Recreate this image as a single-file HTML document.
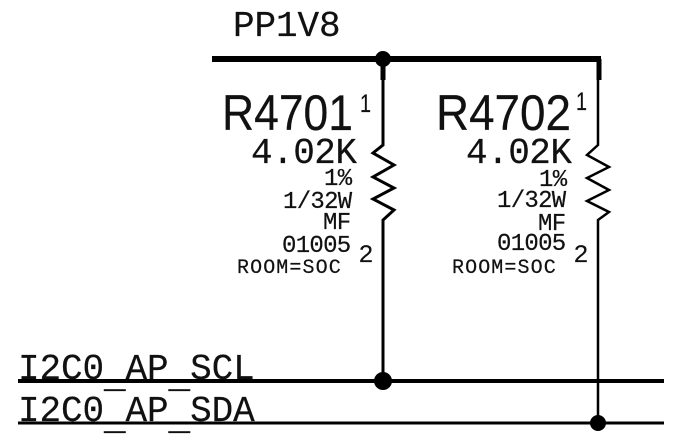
<!DOCTYPE html>
<html><head><meta charset="utf-8"><style>
html,body{margin:0;padding:0;background:#fff;width:684px;height:445px;overflow:hidden}
svg{display:block}
.m{font-family:"Liberation Mono",monospace;fill:#111;stroke:#111;stroke-width:.2}
.s{font-family:"Liberation Sans",sans-serif;fill:#111;stroke:#111;stroke-width:.2}
.b{font-size:36px;letter-spacing:-.1px}
.k{font-size:36px;letter-spacing:-.5px}
.t{font-size:24px;letter-spacing:-.7px}
.r{font-size:20px;letter-spacing:1.1px}
</style></head><body>
<svg width="684" height="445" viewBox="0 0 684 445" xmlns="http://www.w3.org/2000/svg">
<g stroke="#000" fill="none">
<path d="M212 59H601" stroke-width="6"/>
<path d="M383 59V80M599 59V80" stroke-width="5"/>
<path d="M383 80V145L373 153L394 165L373 177L394 188L373 199L394 210L383 220V381" stroke-width="3"/>
<path d="M598 80V145L587 155L609 167L587 178L609 190L587 201L609 212L598 220V423" stroke-width="2.5"/>
<path d="M18 381H664" stroke-width="4"/>
<path d="M18 423H664" stroke-width="3"/>
</g>
<g fill="#000">
<circle cx="383" cy="59" r="8"/>
<circle cx="383" cy="381" r="9"/>
<circle cx="598" cy="423" r="8"/>
</g>
<text class="m b" x="233" y="36">PP1V8</text>
<text class="s" x="222" y="130" font-size="50" textLength="131" lengthAdjust="spacingAndGlyphs">R4701</text>
<text class="s" x="360" y="112" font-size="25" textLength="11" lengthAdjust="spacingAndGlyphs">1</text>
<text class="m k" x="251" y="163">4.02K</text>
<text class="m t" x="324" y="185">1%</text>
<text class="m t" x="283" y="208">1/32W</text>
<text class="m t" x="323" y="229">MF</text>
<text class="m t" x="282" y="252">01005</text>
<text class="m r" x="237" y="273">ROOM=SOC</text>
<text class="s" x="359" y="262" font-size="24" textLength="14" lengthAdjust="spacingAndGlyphs">2</text>
<text class="s" x="436" y="130" font-size="50" textLength="135" lengthAdjust="spacingAndGlyphs">R4702</text>
<text class="s" x="576" y="110" font-size="25" textLength="11" lengthAdjust="spacingAndGlyphs">1</text>
<text class="m k" x="466" y="163">4.02K</text>
<text class="m t" x="539" y="186">1%</text>
<text class="m t" x="497" y="207">1/32W</text>
<text class="m t" x="538" y="230">MF</text>
<text class="m t" x="497" y="250">01005</text>
<text class="m r" x="452" y="273">ROOM=SOC</text>
<text class="s" x="574" y="262" font-size="24" textLength="14" lengthAdjust="spacingAndGlyphs">2</text>
<text class="m b" x="18" y="379">I2C0<tspan dy="8">_</tspan><tspan dy="-8">AP</tspan><tspan dy="8">_</tspan><tspan dy="-8">SCL</tspan></text>
<text class="m b" x="18" y="421">I2C0<tspan dy="8">_</tspan><tspan dy="-8">AP</tspan><tspan dy="8">_</tspan><tspan dy="-8">SDA</tspan></text>
</svg>
</body></html>
